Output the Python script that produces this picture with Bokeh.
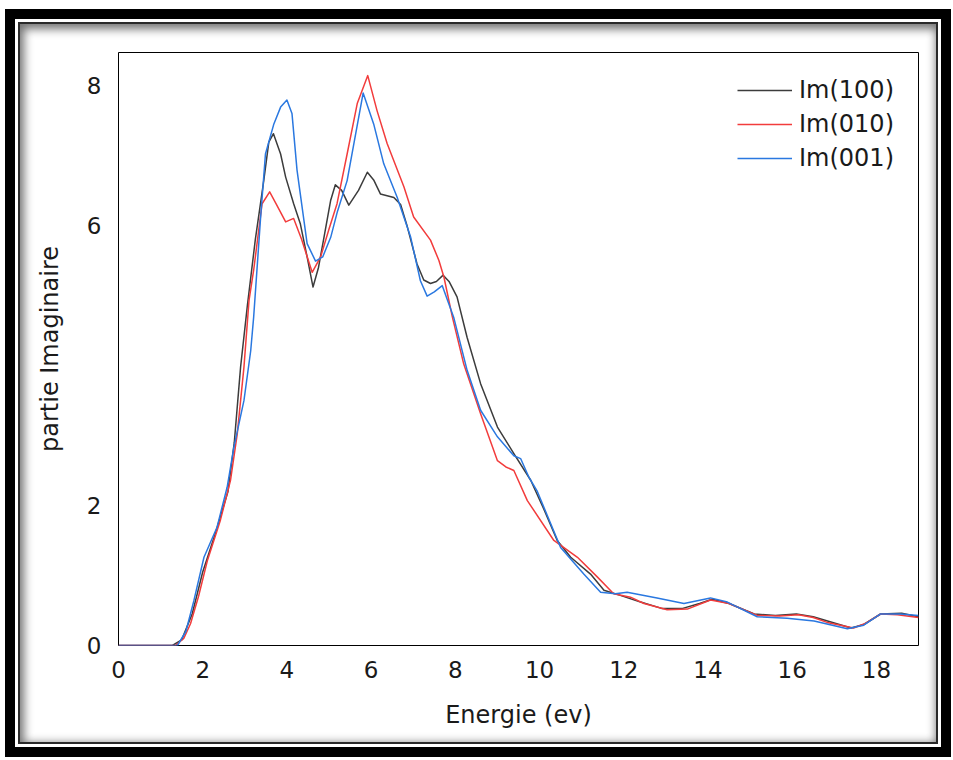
from bokeh.plotting import figure
from bokeh.layouts import column
from bokeh.models import Range1d, FixedTicker, Legend, LegendItem
from bokeh.embed import file_html
from bokeh.resources import INLINE

# ---- data ----
x_100 = [0, 1.28, 1.5, 1.75, 2.0, 2.3, 2.6, 2.75, 2.9, 3.06, 3.25, 3.45, 3.57, 3.68, 3.85, 3.97,
         4.16, 4.32, 4.48, 4.62, 4.75, 4.88, 5.04, 5.15, 5.3, 5.47, 5.7, 5.91, 6.06, 6.22,
         6.54, 6.7, 6.86, 7.09, 7.25, 7.41, 7.55, 7.71, 7.85, 8.04, 8.28, 8.6, 9.0, 9.39,
         9.79, 10.1, 10.42, 10.74, 11.21, 11.53, 11.9, 12.4, 12.9, 13.4, 13.8, 14.1, 14.5,
         15.1, 15.6, 16.1, 16.5, 16.9, 17.4, 17.7, 18.1, 18.6, 19.0]
y_100 = [0, 0, 0.08, 0.45, 1.05, 1.6, 2.2, 2.9, 3.98, 4.85, 5.8, 6.64, 7.19, 7.31, 7.02, 6.69,
         6.31, 6.02, 5.55, 5.12, 5.4, 5.83, 6.36, 6.58, 6.5, 6.29, 6.5, 6.76, 6.65, 6.45,
         6.40, 6.30, 5.98, 5.45, 5.22, 5.17, 5.2, 5.29, 5.2, 4.98, 4.40, 3.74, 3.12, 2.74,
         2.36, 1.95, 1.5, 1.26, 1.02, 0.79, 0.72, 0.62, 0.53, 0.53, 0.6, 0.66, 0.6,
         0.45, 0.43, 0.45, 0.41, 0.34, 0.25, 0.3, 0.45, 0.46, 0.41]

x_010 = [0, 1.35, 1.55, 1.71, 1.9, 2.11, 2.42, 2.66, 2.82, 2.98, 3.1, 3.21, 3.41, 3.59,
         3.75, 3.97, 4.16, 4.35, 4.6, 4.8, 5.0, 5.19, 5.43, 5.67, 5.92, 6.14, 6.38, 6.78,
         7.01, 7.41, 7.61, 7.73, 7.93, 8.2, 8.6, 9.0, 9.2, 9.39, 9.71, 10.34, 10.9, 11.37,
         11.76, 12.16, 12.48, 13.03, 13.51, 14.06, 14.5, 15.17, 15.7, 16.15, 16.5, 16.83,
         17.46, 17.75, 18.1, 18.5, 19.0]
y_010 = [0, 0, 0.1, 0.31, 0.7, 1.21, 1.79, 2.36, 3.02, 3.98, 4.93, 5.36, 6.31, 6.48,
         6.3, 6.05, 6.10, 5.8, 5.33, 5.55, 5.95, 6.31, 7.02, 7.74, 8.14, 7.64, 7.17, 6.55,
         6.12, 5.79, 5.5, 5.26, 4.69, 4.02, 3.31, 2.64, 2.55, 2.5, 2.07, 1.5, 1.26, 0.98,
         0.74, 0.69, 0.6, 0.51, 0.52, 0.65, 0.6, 0.43, 0.42, 0.44, 0.40, 0.33,
         0.25, 0.32, 0.45, 0.44, 0.40]

x_001 = [0, 1.4, 1.6, 1.79, 2.03, 2.34, 2.58, 2.74, 2.98, 3.14, 3.21, 3.37, 3.49, 3.69,
         3.85, 4.0, 4.12, 4.24, 4.48, 4.68, 4.85, 5.04, 5.2, 5.43, 5.6, 5.81, 6.06, 6.3,
         6.62, 6.94, 7.17, 7.33, 7.5, 7.69, 7.96, 8.28, 8.6, 9.0, 9.39, 9.55, 9.75, 9.94,
         10.5, 11.05, 11.45, 11.8, 12.08, 12.79, 13.43, 14.06, 14.46, 15.17, 15.88, 16.52,
         17.31, 17.7, 18.1, 18.57, 19.0]
y_001 = [0, 0, 0.2, 0.64, 1.26, 1.69, 2.26, 2.83, 3.5, 4.21, 4.69, 6.07, 7.02, 7.45,
         7.69, 7.79, 7.6, 6.79, 5.74, 5.49, 5.55, 5.83, 6.2, 6.64, 7.2, 7.89, 7.45, 6.88,
         6.4, 5.83, 5.21, 4.99, 5.05, 5.14, 4.69, 3.93, 3.36, 2.98, 2.71, 2.67, 2.40, 2.21,
         1.4, 1.02, 0.76, 0.74, 0.76, 0.68, 0.60, 0.68, 0.62, 0.41, 0.39, 0.35,
         0.24, 0.29, 0.45, 0.45, 0.43]

series_names = ["Im(100)", "Im(010)", "Im(001)"]
series_colors = ["#3c3c3c", "#f23c3c", "#2a78e0"]
x_ticks = [0, 2, 4, 6, 8, 10, 12, 14, 16, 18]
y_ticks = [0, 2, 6, 8]

FONT = "DejaVu Sans"

p = figure(width=920, height=722, output_backend="svg", toolbar_location=None,
           x_range=Range1d(0, 19), y_range=Range1d(0, 8.47),
           min_border_left=98, min_border_right=22, min_border_top=28, min_border_bottom=101)
p.border_fill_alpha = 0
p.background_fill_color = "white"
p.outline_line_color = "black"
p.outline_line_width = 1
p.xgrid.visible = False
p.ygrid.visible = False

for ax in (p.xaxis[0], p.yaxis[0]):
    ax.axis_line_color = None
    ax.major_tick_line_color = None
    ax.minor_tick_line_color = None
    ax.major_label_text_font = FONT
    ax.major_label_text_font_size = "23px"
    ax.major_label_text_color = "#1a1a1a"
    ax.axis_label_text_font = FONT
    ax.axis_label_text_font_size = "24px"
    ax.axis_label_text_font_style = "normal"
    ax.axis_label_text_color = "#1a1a1a"

p.xaxis.ticker = FixedTicker(ticks=x_ticks)
p.yaxis.ticker = FixedTicker(ticks=y_ticks)
p.xaxis.axis_label = "Energie (ev)"
p.yaxis.axis_label = "partie Imaginaire"
p.xaxis.major_label_standoff = 9
p.yaxis.major_label_standoff = 11
p.xaxis.axis_label_standoff = 20
p.yaxis.axis_label_standoff = 20

xs = [x_100, x_010, x_001]
ys = [y_100, y_010, y_001]
items = []
for xv, yv, name, col in zip(xs, ys, series_names, series_colors):
    r = p.line(xv, yv, line_color=col, line_width=1.5, line_join="round")
    items.append(LegendItem(label=name, renderers=[r]))

legend = Legend(items=items, location="top_right")
legend.label_text_font = FONT
legend.label_text_font_size = "24px"
legend.label_text_color = "#1a1a1a"
legend.glyph_width = 55
legend.label_standoff = 7
legend.spacing = 6
legend.margin = 12
legend.padding = 12
legend.border_line_alpha = 0
legend.background_fill_alpha = 0
p.add_layout(legend)

p.styles = {"border": "2px solid #2a2a2a",
            "box-shadow": "inset 2px 3px 10px 2px rgba(0,0,0,0.55)",
            "background": "white"}

layout = column(p, styles={"border": "10px solid black", "padding": "3px",
                           "background": "white", "margin-left": "5px",
                           "margin-top": "9px"})

open("out.html", "w").write(file_html(layout, INLINE))
